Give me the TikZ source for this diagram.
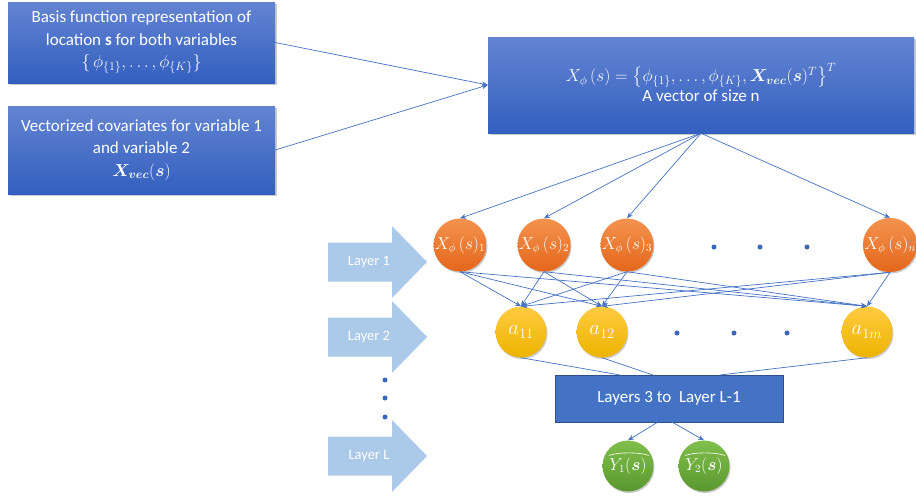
\documentclass[tikz,border=0pt]{standalone}
\usepackage{fontspec}
\setmainfont{Carlito}
\usepackage{amsmath,bm}
\usetikzlibrary{arrows.meta,shadows}
\definecolor{conn}{HTML}{4472C4}
\definecolor{boxtop}{HTML}{6384D1}
\definecolor{boxbot}{HTML}{335FC0}
\definecolor{ortop}{HTML}{F4934F}
\definecolor{orbot}{HTML}{E4661B}
\definecolor{yetop}{HTML}{FFCB40}
\definecolor{yebot}{HTML}{EDB300}
\definecolor{grtop}{HTML}{80BF4C}
\definecolor{grbot}{HTML}{5A9830}
\definecolor{larrow}{HTML}{ABC9E8}
\definecolor{dotc}{HTML}{3C66B8}
\tikzset{
  bluebox/.style={rectangle, top color=boxtop, bottom color=boxbot, draw=none,
    text=white, align=center, font=\fontsize{17}{22.5}\selectfont, inner sep=0pt,
    drop shadow={shadow xshift=1.5pt, shadow yshift=-1.5pt, fill=black!35, opacity=0.6}},
  neuron/.style={circle, minimum size=51pt, inner sep=0pt, text=white,
    drop shadow={shadow xshift=1pt, shadow yshift=-1.5pt, fill=black!35, opacity=0.6}},
  orn/.style={neuron, top color=ortop, bottom color=orbot, font=\fontsize{16}{18}\selectfont},
  yen/.style={neuron, top color=yetop, bottom color=yebot, font=\fontsize{19.5}{21}\selectfont},
  grn/.style={neuron, top color=grtop, bottom color=grbot, font=\fontsize{16}{18}\selectfont},
  hatarc/.style={draw=white, line width=0.6pt},
  conline/.style={draw=conn, line width=0.7pt},
  conarrow/.style={conline, -{Stealth[length=6pt,width=5pt]}},
  laylabel/.style={text=white, font=\fontsize{14.5}{16}\selectfont, inner sep=0pt},
  vdot/.style={circle, fill=dotc, minimum size=5pt, inner sep=0pt},
}
\newcommand\LayArrow[1]{%
  \fill[larrow] (328,#1-19.5) -- (392,#1-19.5) -- (392,#1-36) -- (427,#1) --
    (392,#1+36) -- (392,#1+19.5) -- (328,#1+19.5) -- cycle;}
\newcommand\HatArc[1]{%
  \draw[hatarc] ([shift={(-19,-10.5)}]#1.center) .. controls ([shift={(-10,-14)}]#1.center)
    and ([shift={(12,-14)}]#1.center) .. ([shift={(21,-10.5)}]#1.center);}
\begin{document}
\begin{tikzpicture}[x=1pt,y=-1pt]
\useasboundingbox (0,0) rectangle (916,498);

% top-left boxes
\node[bluebox, minimum width=267pt, minimum height=81pt] (b1) at (141.5,42.5)
  {Basis function representation of\\ location \textbf{s} for both variables\\ $\{\,\phi_{\{1\}},\dots,\phi_{\{K\}}\}$};
\node[bluebox, minimum width=267pt, minimum height=88pt] (b2) at (141.5,150)
  {Vectorized covariates for variable 1\\ and variable 2\\ $\bm{X}_{\bm{vec}}(\bm{s})$};

% big box
\node[bluebox, minimum width=426pt, minimum height=96pt, text depth=0pt] (big) at (701,85)
  {\raisebox{0pt}[0pt][0pt]{}\\[-10pt]$X_\phi\,(s)=\left\{\phi_{\{1\}},\dots,\phi_{\{K\}},\bm{X}_{\bm{vec}}(\bm{s})^T\right\}^T$\\[-3pt] A vector of size n};

\draw[conarrow] (b1.east) -- (big.west);
\draw[conarrow] (b2.east) -- (big.west);

% layer arrows
\LayArrow{262}
\LayArrow{337}
\LayArrow{456}
\node[laylabel] (l1) at (369,262) {Layer 1};
\node[laylabel] (l2) at (369,337) {Layer 2};
\node[laylabel] (lL) at (369,456) {Layer L};
\node[vdot] (vd1) at (385,380) {};
\node[vdot] (vd2) at (385,398) {};
\node[vdot] (vd3) at (385,417) {};

% layer 1
\node[orn] (c1) at (460,245) {$X_\phi\,(s)_1$};
\node[orn] (c2) at (544,245) {$X_\phi\,(s)_2$};
\node[orn] (c3) at (627,245) {$X_\phi\,(s)_3$};
\node[orn] (cn) at (890,245) {$X_\phi\,(s)_n$};
\node[vdot] (d11) at (714,247) {};
\node[vdot] (d12) at (760,247) {};
\node[vdot] (d13) at (807,247) {};

% layer 2
\node[yen] (a1) at (521,332) {$a_{11}$};
\node[yen] (a2) at (602,332) {$a_{12}$};
\node[yen] (am) at (867,332) {$a_{1m}$};
\node[vdot] (d21) at (677,333) {};
\node[vdot] (d22) at (734,333) {};
\node[vdot] (d23) at (787,333) {};

% layers box
\node[rectangle, fill=conn, draw=conn!70!black, line width=0.6pt, minimum width=228pt,
  minimum height=47pt, text=white, font=\fontsize{17}{19}\selectfont] (lb) at (669,398.5)
  {Layers 3 to\ \ Layer L-1};

% outputs
\node[grn] (y1) at (628,466) {$Y_1(\bm{s})$};
\node[grn] (y2) at (704,466) {$Y_2(\bm{s})$};
\HatArc{y1}
\HatArc{y2}

% connectors big -> layer 1
\foreach \c in {c1,c2,c3,cn} \draw[conarrow] (big.south) -- (\c.north);
% layer 1 -> layer 2
\foreach \c in {c1,c2,c3,cn} {
  \foreach \a in {a1,a2,am} \draw[conarrow] (\c.south) -- (\a.north);
}
% layer 2 -> layers box
\coordinate (in1) at (620,375);
\coordinate (in2) at (653,375);
\coordinate (in3) at (720,375);
\draw[conline] (a1.south) -- (in1);
\draw[conline] (a2.south) -- (in2);
\draw[conline] (am.south) -- (in3);
% layers box -> outputs
\coordinate (out1) at (658,422);
\coordinate (out2) at (672,422);
\draw[conarrow] (out1) -- (y1.north);
\draw[conarrow] (out2) -- (y2.north);
\end{tikzpicture}
\end{document}
